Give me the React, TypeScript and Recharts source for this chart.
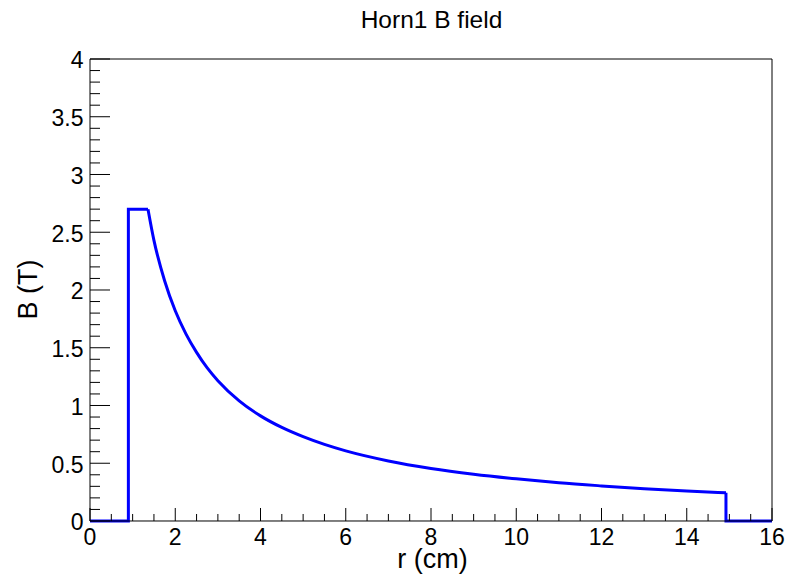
import React from 'react';
import { LineChart, Line, XAxis, YAxis, ReferenceLine } from 'recharts';

// Left step of the field (r in cm, B in T)
const leftStepR = [0, 0.9, 0.9, 1.36];
const leftStepB = [0, 0, 2.7, 2.7];
// Falling part of the field
const curveR = [
  1.36, 1.5, 1.75, 2.0, 2.25, 2.5, 2.75, 3.0, 3.5, 4, 4.5, 5, 5.5, 6, 7, 8, 9, 10, 11, 12, 13, 14, 14.92,
];
const curveB = [
  2.7, 2.43, 2.08, 1.82, 1.62, 1.46, 1.325, 1.215, 1.04, 0.91, 0.81, 0.73, 0.663, 0.607, 0.52, 0.455, 0.405,
  0.365, 0.331, 0.304, 0.28, 0.26, 0.244,
];
// Right step of the field
const rightStepR = [14.92, 14.92, 16];
const rightStepB = [0.244, 0, 0];

const xMajorTicks = [0, 2, 4, 6, 8, 10, 12, 14, 16];
const xAllTicks = [
  0, 0.5, 1, 1.5, 2, 2.5, 3, 3.5, 4, 4.5, 5, 5.5, 6, 6.5, 7, 7.5, 8, 8.5, 9, 9.5, 10, 10.5, 11, 11.5,
  12, 12.5, 13, 13.5, 14, 14.5, 15, 15.5, 16,
];
const yMajorTicks = [0, 0.5, 1, 1.5, 2, 2.5, 3, 3.5, 4];
const yAllTicks = [
  0, 0.1, 0.2, 0.3, 0.4, 0.5, 0.6, 0.7, 0.8, 0.9, 1, 1.1, 1.2, 1.3, 1.4, 1.5, 1.6, 1.7, 1.8, 1.9, 2,
  2.1, 2.2, 2.3, 2.4, 2.5, 2.6, 2.7, 2.8, 2.9, 3, 3.1, 3.2, 3.3, 3.4, 3.5, 3.6, 3.7, 3.8, 3.9, 4,
];

const titleText = 'Horn1 B field';
const xTitle = 'r (cm)';
const yTitle = 'B (T)';

const toPoints = (rs: number[], bs: number[]) => rs.map((r, i) => ({ r, b: bs[i] }));
const leftStepData = toPoints(leftStepR, leftStepB);
const curveData = toPoints(curveR, curveB);
const rightStepData = toPoints(rightStepR, rightStepB);

const FONT = '"Liberation Sans", Arial, Helvetica, sans-serif';
const TICK_FONT = 23;

const isMajor = (list: number[], v: number) => list.some((m) => Math.abs(m - v) < 1e-9);

const XTick = (props: any) => {
  const x = Number(props.x);
  const y = Number(props.y);
  const v = Number(props.payload.value);
  const major = isMajor(xMajorTicks, v);
  return (
    <g>
      <path d={`M${x},${y}V${y - (major ? 13 : 7)}`} stroke="#000" strokeWidth={1} fill="none" />
      {major && (
        <text x={x} y={y + 24.5} textAnchor="middle" fontSize={TICK_FONT} fontFamily={FONT} fill="#000">
          {props.payload.value}
        </text>
      )}
    </g>
  );
};

const YTick = (props: any) => {
  const x = Number(props.x);
  const y = Number(props.y);
  const v = Number(props.payload.value);
  const major = isMajor(yMajorTicks, v);
  return (
    <g>
      <path d={`M${x},${y}H${x + (major ? 20 : 10)}`} stroke="#000" strokeWidth={1} fill="none" />
      {major && (
        <text
          x={x - 6.5}
          y={y + 1}
          dy="0.36em"
          textAnchor="end"
          fontSize={TICK_FONT}
          fontFamily={FONT}
          fill="#000"
        >
          {props.payload.value}
        </text>
      )}
    </g>
  );
};

export default function App() {
  return (
    <div style={{ position: 'absolute', left: 0, top: 0, width: 789, height: 581, background: '#fff' }}>
      <LineChart width={789} height={581} margin={{ top: 59, right: 17, bottom: 60, left: 90 }}>
        <XAxis
          type="number"
          dataKey="r"
          domain={[0, 16]}
          ticks={xAllTicks}
          tick={<XTick />}
          interval={0}
          tickSize={0}
          tickMargin={0}
          tickLine={false}
          height={0.01}
          axisLine={{ stroke: '#000', strokeWidth: 1 }}
        />
        <YAxis
          type="number"
          domain={[0, 4]}
          ticks={yAllTicks}
          tick={<YTick />}
          interval={0}
          tickSize={0}
          tickMargin={0}
          tickLine={false}
          width={0.01}
          axisLine={{ stroke: '#000', strokeWidth: 1 }}
        />
        <ReferenceLine y={4} stroke="#000" strokeWidth={1} ifOverflow="visible" />
        <ReferenceLine x={16} stroke="#000" strokeWidth={1} ifOverflow="visible" />
        <Line
          data={leftStepData}
          type="linear"
          dataKey="b"
          stroke="#0000ff"
          strokeWidth={3}
          strokeLinejoin="miter"
          dot={false}
          activeDot={false}
          isAnimationActive={false}
        />
        <Line
          data={curveData}
          type="monotone"
          dataKey="b"
          stroke="#0000ff"
          strokeWidth={3}
          dot={false}
          activeDot={false}
          isAnimationActive={false}
        />
        <Line
          data={rightStepData}
          type="linear"
          dataKey="b"
          stroke="#0000ff"
          strokeWidth={3}
          strokeLinejoin="miter"
          dot={false}
          activeDot={false}
          isAnimationActive={false}
        />
        <text x={431.5} y={28} textAnchor="middle" fontSize={24.5} fontFamily={FONT} fill="#000">
          {titleText}
        </text>
        <text x={432.5} y={568} textAnchor="middle" fontSize={27} fontFamily={FONT} fill="#000">
          {xTitle}
        </text>
        <text
          x={0}
          y={0}
          textAnchor="middle"
          fontSize={27}
          fontFamily={FONT}
          fill="#000"
          transform="translate(36.5,289.5) rotate(-90)"
        >
          {yTitle}
        </text>
      </LineChart>
    </div>
  );
}
